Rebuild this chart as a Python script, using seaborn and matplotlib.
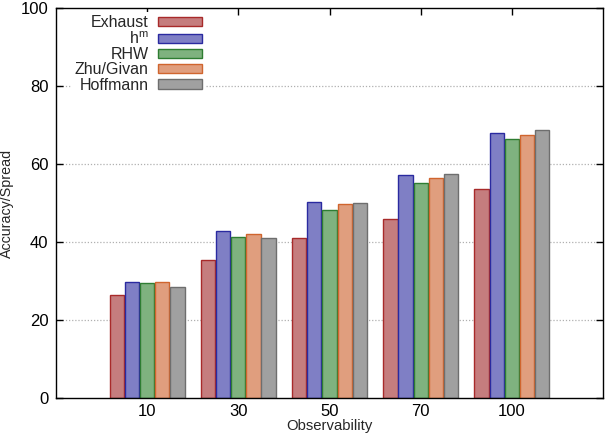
import matplotlib
matplotlib.use('Agg')
import matplotlib.pyplot as plt
import seaborn as sns
import pandas as pd

observability = ['10', '30', '50', '70', '100']
methods = ['Exhaust', 'h$^{\\rm m}$', 'RHW', 'Zhu/Givan', 'Hoffmann']

exhaust = [26.4, 35.4, 40.9, 45.9, 53.5]
hm = [29.7, 42.8, 50.3, 57.1, 67.9]
rhw = [29.4, 41.3, 48.2, 55.2, 66.3]
zhu_givan = [29.7, 42.0, 49.7, 56.4, 67.4]
hoffmann = [28.4, 41.0, 50.1, 57.4, 68.8]

fill_colors = ['#c57d7e', '#7f7fc5', '#7fb27f', '#e09e7e', '#a0a0a0']
edge_colors = ['#a82a2a', '#2a2aa0', '#2e7d32', '#d0652e', '#6e6e6e']


def build_frame():
    rows = []
    for name, vals in zip(methods, [exhaust, hm, rhw, zhu_givan, hoffmann]):
        for obs, v in zip(observability, vals):
            rows.append({'Observability': obs, 'Method': name, 'Value': v})
    return pd.DataFrame(rows)


def configure_styles():
    sns.set_style("ticks")
    plt.rcParams['font.family'] = ['Liberation Sans', 'DejaVu Sans']
    plt.rcParams['mathtext.fontset'] = 'custom'
    plt.rcParams['mathtext.rm'] = 'Liberation Sans'


def create_chart(df):
    fig = plt.figure(figsize=(6.06, 4.38), dpi=100)
    ax = fig.add_axes([56 / 606, 40 / 438, 547 / 606, 390 / 438])

    sns.barplot(data=df, x='Observability', y='Value', hue='Method',
                order=observability, hue_order=methods,
                palette=fill_colors, width=0.83, gap=0.06,
                saturation=1, ax=ax, zorder=2)

    for container, ec in zip(ax.containers, edge_colors):
        for bar in container:
            bar.set_edgecolor(ec)
            bar.set_linewidth(1.0)

    ax.set_xlim(-1, 5)
    ax.set_ylim(0, 100)
    ax.set_yticks(range(0, 101, 20))
    ax.set_xlabel('Observability', fontsize=10.7, labelpad=0)
    ax.set_ylabel('Accuracy/Spread', fontsize=10.3)
    ax.yaxis.set_label_coords(-0.076, 0.5)

    ax.set_axisbelow(True)
    for y in [20, 40, 60, 80]:
        ax.axhline(y, color='#b0b0b0', linestyle=(0, (1, 1.5)), linewidth=0.9, zorder=0)

    ax.tick_params(direction='in', top=True, right=True, length=5, width=1,
                   labelsize=12, colors='black', pad=5.5)
    ax.tick_params(axis='x', pad=4.5)
    for s in ax.spines.values():
        s.set_linewidth(1.0)
        s.set_color('black')

    handles, labels = ax.get_legend_handles_labels()
    leg = ax.legend(handles, labels, loc='upper left', bbox_to_anchor=(0.02, 1.003),
                    frameon=True, markerfirst=False, fontsize=11.5,
                    handlelength=2.75, handleheight=0.5, labelspacing=0.02,
                    handletextpad=0.55, borderpad=0.2, borderaxespad=0.3)
    leg.get_frame().set_facecolor('white')
    leg.get_frame().set_edgecolor('none')
    leg.get_frame().set_alpha(1)
    leg.get_frame().set_boxstyle('square', pad=0)
    for h, ec in zip(leg.legend_handles, edge_colors):
        h.set_edgecolor(ec)
        h.set_linewidth(1.0)

    fig.savefig('out.png', dpi=100)


configure_styles()
create_chart(build_frame())
